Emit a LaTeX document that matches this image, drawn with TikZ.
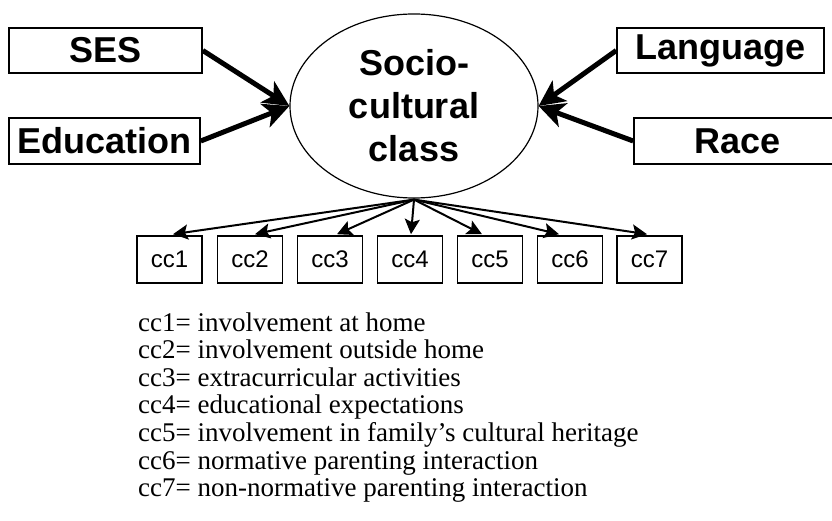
\documentclass[tikz,border=0pt]{standalone}
\usepackage{fontspec}
\setmainfont{Liberation Serif}
\setsansfont{Liberation Sans}
\usetikzlibrary{shapes.geometric,arrows.meta,calc}
\tikzset{
  bigbox/.style={draw, line width=1.6pt, inner sep=0pt, font=\sffamily\bfseries\fontsize{36}{40}\selectfont},
  ccbox/.style={draw, line width=1.6pt, minimum width=65pt, minimum height=47pt, inner sep=0pt, font=\sffamily\fontsize{24}{26}\selectfont},
  bigarrow/.style={line width=5pt, -{Stealth[length=26pt,width=25pt,inset=7pt]}},
  smallarrow/.style={line width=2pt, -{Stealth[length=15pt,width=15pt,inset=3pt]}},
  legend/.style={anchor=base west, inner sep=0pt, font=\fontsize{27}{30}\selectfont},
}
\begin{document}
\begin{tikzpicture}[x=1pt,y=-1pt]
\clip (0,0) rectangle (832,521);
\useasboundingbox (0,0) rectangle (832,521);
% central ellipse
\node[ellipse, draw, line width=1.2pt, minimum width=248pt, minimum height=184pt, inner sep=0pt,
      align=center, font=\sffamily\bfseries\fontsize{36}{43}\selectfont] (scc) at (414,106) {Socio-\\cultural\\class};
% predictor boxes
\node[bigbox, minimum width=193pt, minimum height=45pt] (ses) at (105.5,50.5) {SES};
\node[bigbox, minimum width=191pt, minimum height=46pt] (edu) at (104.5,141) {Education};
\node[bigbox, minimum width=207pt, minimum height=45pt] (lang) at (720.5,50.5) {Language};
\node[bigbox, minimum width=207pt, minimum height=46pt] (race) at (737.5,141) {Race};
\draw[bigarrow] (ses.east) -- (scc.west);
\draw[bigarrow] (edu.east) -- (scc.west);
\draw[bigarrow] (lang.west) -- (scc.east);
\draw[bigarrow] (race.west) -- (scc.east);
% indicator boxes
\node[ccbox] (cc1) at (169.5,259.5) {cc1};
\node[ccbox] (cc2) at (250,259.5) {cc2};
\node[ccbox] (cc3) at (330,259.5) {cc3};
\node[ccbox] (cc4) at (410,259.5) {cc4};
\node[ccbox] (cc5) at (490,259.5) {cc5};
\node[ccbox] (cc6) at (570,259.5) {cc6};
\node[ccbox] (cc7) at (649.5,259.5) {cc7};
\coordinate (src) at ($(scc.south)+(0,1)$);
\draw[smallarrow] (src) -- ($(cc1.north)+(3.5,-1)$);
\draw[smallarrow] (src) -- ($(cc2.north)+(5,-1)$);
\draw[smallarrow] (src) -- ($(cc3.north)+(7,-1)$);
\draw[smallarrow] (src) -- ($(cc4.north)+(1,-1)$);
\draw[smallarrow] (src) -- ($(cc5.north)+(-8,-1)$);
\draw[smallarrow] (src) -- ($(cc6.north)+(-11,-1)$);
\draw[smallarrow] (src) -- ($(cc7.north)+(-2.5,-1)$);
% legend
\node[legend] (l1) at (138,331) {cc1= involvement at home};
\node[legend] (l2) at (138,358.6) {cc2= involvement outside home};
\node[legend] (l3) at (138,386.2) {cc3= extracurricular activities};
\node[legend] (l4) at (138,413.8) {cc4= educational expectations};
\node[legend] (l5) at (138,441.4) {cc5= involvement in family’s cultural heritage};
\node[legend] (l6) at (138,469) {cc6= normative parenting interaction};
\node[legend] (l7) at (138,496.6) {cc7= non-normative parenting interaction};
\end{tikzpicture}
\end{document}
